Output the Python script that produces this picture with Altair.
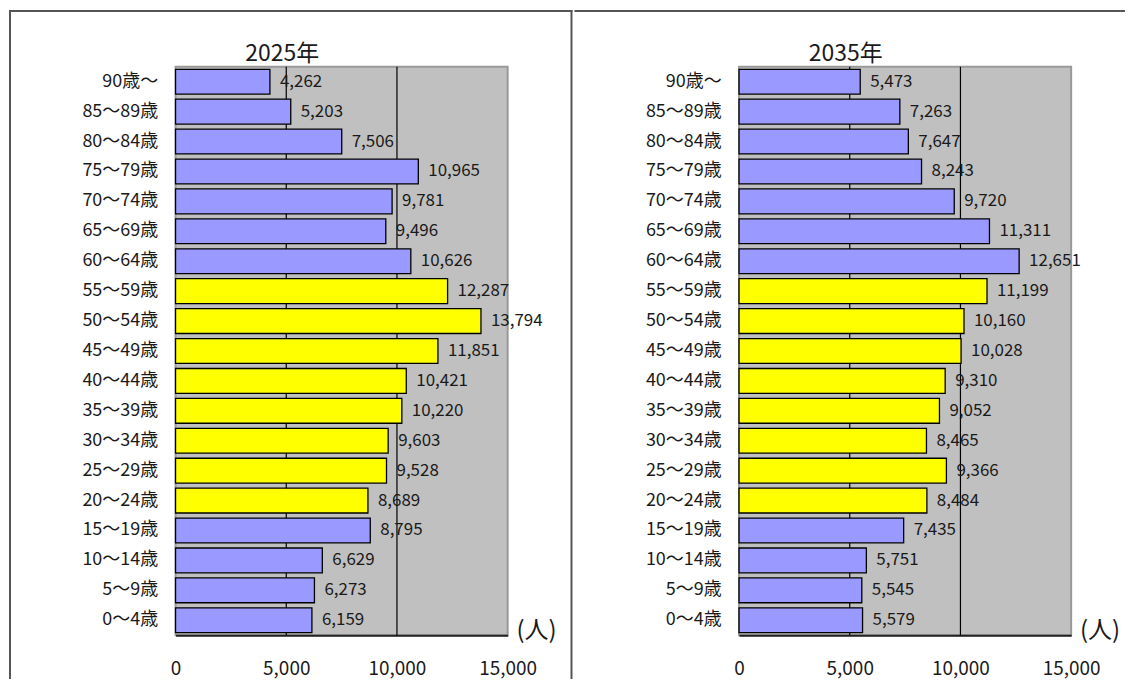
import altair as alt
import pandas as pd

FONT = "Noto Sans CJK JP"

ages = ["90歳～", "85～89歳", "80～84歳", "75～79歳", "70～74歳", "65～69歳",
        "60～64歳", "55～59歳", "50～54歳", "45～49歳", "40～44歳", "35～39歳",
        "30～34歳", "25～29歳", "20～24歳", "15～19歳", "10～14歳", "5～9歳", "0～4歳"]
values_2025 = [4262, 5203, 7506, 10965, 9781, 9496, 10626, 12287, 13794, 11851,
               10421, 10220, 9603, 9528, 8689, 8795, 6629, 6273, 6159]
values_2035 = [5473, 7263, 7647, 8243, 9720, 11311, 12651, 11199, 10160, 10028,
               9310, 9052, 8465, 9366, 8484, 7435, 5751, 5545, 5579]
working = ["20～24歳", "25～29歳", "30～34歳", "35～39歳", "40～44歳",
           "45～49歳", "50～54歳", "55～59歳"]
x_ticks = [0, 5000, 10000, 15000]
grid_values = [5000, 10000]
titles = ["2025年", "2035年"]
unit = "(人)"

BORDER = "#555555"
TXT = "#1a1a1a"


def frame_rect(df, x, x2, y, y2):
    return alt.Chart(df).mark_rect(color=BORDER).encode(
        x=alt.value(x), x2=alt.value(x2), y=alt.value(y), y2=alt.value(y2))


def panel(title, values, first):
    df = pd.DataFrame({
        "age": ages,
        "value": values,
        "grp": ["work" if a in working else "other" for a in ages],
    })
    xscale = alt.Scale(domain=[0, 15000], nice=False)
    xaxis = alt.Axis(values=x_ticks, labelExpr="format(datum.value, ',')",
                     labelFontSize=19, labelFont=FONT, labelFlush=False,
                     labelPadding=24, ticks=False, domain=True, domainColor="#222222",
                     domainWidth=2, grid=False, labelColor=TXT)
    x = alt.X("value:Q", scale=xscale, title=None, axis=xaxis)
    y = alt.Y("age:N", sort=ages, title=None,
              scale=alt.Scale(paddingInner=0.17),
              axis=alt.Axis(labelFontSize=18, labelFont=FONT, labelPadding=18,
                            ticks=False, domain=False, labelColor=TXT))

    grid = alt.Chart(pd.DataFrame({"value": grid_values})).mark_rule(
        color="#000000", strokeWidth=1.2).encode(x=x)
    bars = alt.Chart(df).mark_bar(stroke="#000000", strokeWidth=1.3).encode(
        x=x, y=y,
        color=alt.Color("grp:N", scale=alt.Scale(domain=["other", "work"],
                                                 range=["#9999FF", "#FFFF00"]),
                        legend=None))
    labels = alt.Chart(df).mark_text(align="left", dx=10, fontSize=17, font=FONT,
                                     color=TXT).encode(
        x=x, y=y, text=alt.Text("value:Q", format=","))

    tdf = pd.DataFrame({"t": [title]})
    ttl = alt.Chart(tdf).mark_text(fontSize=23, font=FONT, color=TXT).encode(
        x=alt.value(107), y=alt.value(-13), text="t:N")
    udf = pd.DataFrame({"t": [unit]})
    un = alt.Chart(udf).mark_text(fontSize=24, font=FONT, color=TXT).encode(
        x=alt.value(362), y=alt.value(566), text="t:N")

    layers = [grid, bars, labels, ttl, un]
    if first:
        layers += [
            frame_rect(tdf, -167, 398, -57, -55),   # top border
            frame_rect(tdf, -167, -165, -57, 614),  # left border
            frame_rect(tdf, 396, 398, -57, 614),    # middle divider
        ]
    else:
        layers += [frame_rect(tdf, -165, 387, -57, -55)]
    return alt.layer(*layers).properties(width=333, height=570)


chart = alt.hconcat(
    panel(titles[0], values_2025, True),
    panel(titles[1], values_2035, False),
    spacing=0,
).properties(padding=0, background="white").configure_view(
    fill="#C0C0C0", stroke="#999999", strokeWidth=2
).configure_concat(spacing=0)

chart.save("out.html", embed_options={"renderer": "svg", "actions": False})
